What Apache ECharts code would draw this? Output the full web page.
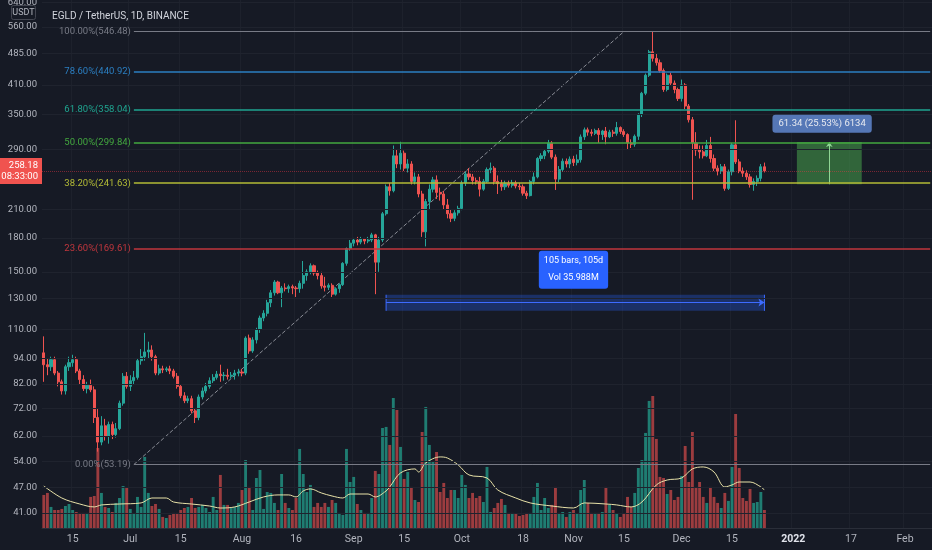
<!DOCTYPE html>
<html><head><meta charset="utf-8">
<script src="https://cdn.jsdelivr.net/npm/echarts@6/dist/echarts.min.js"></script>
<style>html,body{margin:0;padding:0;background:#161a25;}#c{width:932px;height:550px;}</style>
</head><body><div id="c"></div>
<script>
const FONT = "'Liberation Sans Narrow','Roboto','Liberation Sans',sans-serif";

// daily categories from 2021-06-07 to 2022-02-08
const dates = [];
(function(){ const d0 = Date.UTC(2021,5,7); for (let k=0;k<247;k++){ dates.push(new Date(d0+k*86400000).toISOString().slice(0,10)); } })();

// [open, close, low, high]
const candles = [
[97,91,83,106],[91,90,86,94],[90,93.5,88,95],[93.5,87,86,95],[87,83,81,88],[83,79,77.5,84],[79,90,77.5,91],[90,92,88,95],[92,93.5,90,96],[93.5,88,87,95],
[88,84,82,89],[84,80,79,86],[80,81.5,78,83],[81.5,79.5,78.5,84],[79.5,68.5,66.5,81],[68.5,60,57,72],[60,65.5,59,69],[65.5,62,60.5,68],[62,66,59.5,67],[66,62.5,61,67],
[62.5,64.5,61.5,66.5],[64.5,74,64,75],[74,85.5,73,87],[85.5,81,80,87.5],[81,83.5,79,86],[83.5,85,82,88],[85,93,84,94],[93,95,91,99],[95,97.5,93,108],[97.5,98.5,94,103],
[98.5,95,93,101],[95,87,86,96],[87,89,86,91],[89,88.5,87,90.5],[88.5,89,87.5,90],[89,88,86.5,90.5],[88,85.5,84.5,89],[85.5,81,80,87],[81,77,76,82],[77,75,74,78.5],
[75,75.8,74,77],[75.8,71,70,77],[71,68.5,66.5,72],[68.5,76.5,67.5,77.5],[76.5,79,75.5,80.5],[79,81,78,82.5],[81,83.5,80,85],[83.5,85,82.5,86.5],[85,86.5,84,88],[86.5,85.8,83,91],
[85.8,86,83.5,87.5],[86,85.5,84,89],[85.5,86,84.5,87.5],[86,87,84,88.5],[87,87.5,85.5,89],[87.5,87,85.5,89],[87,105,86,106],[105,98,96.5,107],[98,104,97,105.5],[104,110,102,111],
[110,117,108,118.5],[117,120,115,122],[120,127,118,129],[127,134,124,136],[134,142,132,143.5],[142,134,133,143],[134,137.5,124,139],[137.5,137,135,141],[137,138.5,134,140],[138.5,137.5,133,140],
[137.5,137,131,139],[137,141,134,143],[141,147,137,159],[147,150,143,152],[150,155,148,157],[155,149,147,156],[149,147,144,151],[147,139,137,150],[139,138,135,146],[138,139.5,136,141],
[139.5,133,131,141],[133,137,132,138],[137,140,134,141],[140,157,139,158],[157,170,155,171],[170,175,168,178],[175,178,172,180],[178,176,173,181],[176,179,174,181],[179,177,174,180],
[177,178,175,181],[178,183,176,185],[183,158,133,184],[158,178,150,181],[178,205,176,207],[205,237,203,240],[237,232,226,242],[232,280,230,296],[280,268,262,290],[268,284,260,302],
[284,262,258,288],[262,268,256,275],[268,244,240,272],[244,250,240,256],[250,228,224,254],[228,186,181,232],[186,219,172,222],[219,234,210,240],[234,246,230,250],[246,230,222,252],
[230,228,220,236],[228,215,210,232],[215,205,200,222],[205,200,196,210],[200,206,197,209],[206,211,203,214],[211,242,209,245],[242,254,238,258],[254,250,246,262],[250,245,240,254],
[245,244,240,249],[244,234,225,250],[234,244,232,247],[244,260,242,263],[260,262,255,270],[262,244,240,265],[244,241,228,252],[241,237,232,246],[237,241,233,245],[241,239,236,245],
[239,242,236,246],[242,238,235,245],[238,237,233,242],[237,229,226,240],[229,226,222,232],[226,244,225,246],[244,250,240,256],[250,276,248,278],[276,280,272,284],[280,287,275,290],
[287,300,284,305],[300,278,275,303],[278,247,233,282],[247,260,243,265],[260,272,257,276],[272,268,263,276],[268,275,262,279],[275,270,265,280],[270,274,266,282],[274,310,270,314],
[310,322,305,326],[322,318,312,326],[318,316,311,323],[316,321,313,324],[321,314,300,325],[314,320,305,322],[320,310,298,327],[310,318,308,322],[318,316,310,322],[316,326,312,336],
[326,319,315,328],[319,314,310,323],[314,300,290,316],[300,298,292,306],[298,311,294,314],[311,350,305,352],[350,392,345,395],[392,432,388,436],[432,490,428,495],[490,473,465,546],
[473,462,455,485],[462,443,438,470],[443,400,395,448],[400,432,396,436],[432,414,408,438],[414,400,392,420],[400,381,376,404],[381,410,375,422],[410,366,360,414],[366,340,335,370],
[340,300,221,345],[300,289,280,318],[289,286,276,296],[286,280,276,296],[280,296,278,305],[296,276,270,310],[276,262,258,282],[262,258,252,266],[258,264,254,268],[264,235,232,268],
[235,257,233,260],[257,297,252,300],[297,271,268,339],[271,258,255,275],[258,255,250,263],[255,250,246,259],[250,240,236,254],[240,244,232,248],[244,248,238,252],[248,264,244,268],
[264,258.18,256,270]
];

// daily volume (thousand EGLD)
const volumes = [
248,263,158,135,135,143,165,180,135,120,
113,113,113,233,240,600,263,158,150,120,
188,225,315,300,143,105,233,158,533,263,
165,180,143,83,75,98,113,113,135,150,
158,225,150,158,173,150,120,233,135,398,
173,173,150,158,188,285,510,308,135,375,
435,143,270,263,188,135,405,188,150,135,
225,593,405,270,323,158,188,158,188,158,
210,188,113,98,593,345,383,180,135,113,
113,225,428,405,750,758,623,975,885,608,
368,420,308,210,195,720,908,623,495,570,
270,338,225,285,285,225,398,323,225,263,
225,240,195,458,120,150,188,218,173,113,
113,105,90,98,113,113,233,338,135,225,
150,173,308,113,120,83,120,135,105,285,
360,188,113,113,113,120,308,173,135,105,
83,105,233,158,263,450,510,713,953,990,
668,383,375,255,285,210,233,390,615,345,
720,300,345,233,188,308,233,188,150,263,
203,458,855,450,225,203,293,188,195,270,
135
];

// volume moving average
const maDates = ['2021-06-07','2021-06-12','2021-06-17','2021-06-21','2021-06-23','2021-06-28','2021-07-04','2021-07-07','2021-07-11','2021-07-13','2021-07-18','2021-07-23','2021-07-26','2021-07-30','2021-08-03','2021-08-07','2021-08-11','2021-08-14','2021-08-16','2021-08-18','2021-08-20','2021-08-23','2021-08-26','2021-08-29','2021-08-31','2021-09-05','2021-09-07','2021-09-10','2021-09-11','2021-09-14','2021-09-18','2021-09-19','2021-09-21','2021-09-25','2021-09-27','2021-09-30','2021-10-03','2021-10-08','2021-10-11','2021-10-16','2021-10-20','2021-10-26','2021-11-01','2021-11-04','2021-11-10','2021-11-13','2021-11-17','2021-11-20','2021-11-24','2021-11-27','2021-12-01','2021-12-04','2021-12-07','2021-12-10','2021-12-13','2021-12-15','2021-12-17','2021-12-20','2021-12-23','2021-12-24'];
const maValues = [315,225,180,158,173,180,188,225,225,195,180,165,150,158,195,233,248,248,233,278,293,263,240,225,255,255,233,278,308,413,443,420,488,533,525,473,398,375,285,225,188,165,150,188,180,173,158,195,323,360,375,443,458,420,308,323,345,345,308,285];

// axis ticks
const xTickDates  = ['2021-06-15','2021-07-01','2021-07-15','2021-08-01','2021-08-16','2021-09-01','2021-09-15','2021-10-01','2021-10-18','2021-11-01','2021-11-15','2021-12-01','2021-12-15','2022-01-01','2022-01-17','2022-02-01'];
const xTickLabels = ['15','Jul','15','Aug','16','Sep','15','Oct','18','Nov','15','Dec','15','2022','17','Feb'];
const yTicks = [640,560,485,410,350,290,210,180,150,130,110,94,82,72,62,54,47,41];

// fibonacci retracement
const fibRatios = ['100.00%','78.60%','61.80%','50.00%','38.20%','23.60%','0.00%'];
const fibValues = [546.48,440.92,358.04,299.84,241.63,169.61,53.19];
const fibColors = ['#787b86','#2b7fc2','#1fa590','#43a83f','#b3bb36','#c0363d','#787b86'];
const fibStart = '2021-07-02', fibEnd = '2022-02-08', trendEnd = '2021-11-15';

const lastPrice = 258.18, lastCountdown = '08:33:00';
const rangeStart = '2021-09-10', rangeEnd = '2021-12-24', rangeLow = 121.6, rangeHigh = 132.6;
const rangeText = ['105 bars, 105d','Vol 35.988M'];
const boxStart = '2022-01-02', boxEnd = '2022-01-20', boxMid = '2022-01-11', boxLow = 240.28, boxHigh = 301.62;
const boxText = '61.34 (25.53%) 6134';

const tickMap = {}; xTickDates.forEach((d,k)=>tickMap[d]=xTickLabels[k]);
const UP='#26a69a', DN='#ef5350', VUP='#1f7d72', VDN='#9c3c3f', BG='#161a25';

function segment(p0, p1, color, type){
  return {type:'line', silent:true, yAxisIndex:0, z:3, showSymbol:false,
    lineStyle:{color:color, width:1, type:type||'solid'}, emphasis:{disabled:true},
    data:[p0, p1]};
}

const fibSeries = fibValues.map((v,k)=>({
  type:'line', data:[], silent:true, yAxisIndex:0, z:3,
  markLine:{silent:true, symbol:'none',
    lineStyle:{color:fibColors[k], width:(k===0||k===6)?1:1.5, type:'solid'},
    label:{show:true, position:'start', distance:3, formatter:fibRatios[k]+'('+v.toFixed(2)+')', color:fibColors[k], fontSize:9.5, fontFamily:FONT},
    data:[[{coord:[fibStart, v]},{coord:[fibEnd, v]}]]}
}));

const chart = echarts.init(document.getElementById('c'));
chart.setOption({
  animation:false,
  backgroundColor:BG,
  textStyle:{fontFamily:FONT},
  title:{text:'EGLD / TetherUS, 1D, BINANCE', left:47, top:6, textStyle:{color:'#d1d4dc', fontSize:10, fontWeight:'normal', fontFamily:FONT}},
  graphic:[{type:'group', left:11, top:5, children:[
    {type:'rect', shape:{x:0,y:0,width:24,height:14,r:2}, style:{fill:BG, stroke:'#434651', lineWidth:1}},
    {type:'text', style:{x:12, y:7, text:'USDT', fill:'#b2b5be', font:'9px '+FONT, align:'center', verticalAlign:'middle'}}
  ]}],
  grid:{left:42, right:0, top:0, bottom:22},
  xAxis:{type:'category', data:dates, boundaryGap:true,
    axisLine:{show:true, lineStyle:{color:'#2a2e39'}},
    axisTick:{show:false, alignWithLabel:true},
    axisLabel:{interval:(i,v)=>tickMap[v]!==undefined, formatter:v=>tickMap[v]==='2022'?'{b|2022}':(tickMap[v]||''),
      color:'#b2b5be', fontSize:10.5, margin:6, fontFamily:FONT, rich:{b:{color:'#e0e3eb', fontWeight:'bold', fontSize:10.5, fontFamily:FONT}}},
    splitLine:{show:true, interval:(i,v)=>tickMap[v]!==undefined, lineStyle:{color:'#1d212c'}}
  },
  yAxis:[
    {type:'log', logBase:10, min:37.8, max:647.5, axisLabel:{show:false}, splitLine:{show:false}, axisLine:{show:false}, axisTick:{show:false}},
    {type:'value', min:0, max:3960, show:false, splitLine:{show:false}}
  ],
  series:[
    {type:'line', data:[], silent:true, yAxisIndex:0,
      markLine:{symbol:'none', silent:true, animation:false,
        lineStyle:{color:'#1f232e', width:1, type:'solid'},
        label:{position:'start', color:'#b2b5be', fontSize:9.5, distance:5, fontFamily:FONT},
        data:yTicks.map(v=>({yAxis:v, label:{formatter:v.toFixed(2)}}))}
    },
    {type:'bar', yAxisIndex:1, barWidth:'80%', silent:true,
      data:volumes.map((v,k)=>({value:v, itemStyle:{color: candles[k][1]>=candles[k][0]?VUP:VDN}}))},
    {type:'line', yAxisIndex:1, silent:true, showSymbol:false, smooth:0.35,
      data:maDates.map((d,k)=>[d, maValues[k]]), lineStyle:{color:'#e8e2a8', width:1}},
    {type:'line', data:[], silent:true, yAxisIndex:0,
      markArea:{silent:true, data:[
        [{coord:[rangeStart, rangeLow], itemStyle:{color:'rgba(41,98,255,0.30)'}},{coord:[rangeEnd, rangeHigh]}],
        [{coord:[boxStart, boxLow], itemStyle:{color:'rgba(76,175,80,0.50)'}},{coord:[boxEnd, boxHigh]}]
      ]},
      markPoint:{silent:true, symbol:'rect', symbolSize:1, itemStyle:{color:'transparent'}, data:[
        {coord:['2021-11-01', 151.7], label:{show:true, position:'inside', formatter:rangeText.join('\n'), color:'#ffffff', fontSize:9, lineHeight:17, backgroundColor:'#2962ff', padding:[2,5], borderRadius:3, fontFamily:FONT}},
        {coord:['2022-01-09', 332.7], label:{show:true, position:'inside', formatter:boxText, color:'#e8eaf0', fontSize:9.5, backgroundColor:'#5577b6', padding:[4,6], borderRadius:3, fontFamily:FONT}}
      ]}
    },
    {type:'line', data:[], silent:true, yAxisIndex:0,
      markLine:{silent:true, symbol:['none','arrow'], symbolSize:6, label:{show:false},
        lineStyle:{color:'#3d6bff', width:1, type:'solid'},
        data:[[{coord:[rangeStart, (rangeLow+rangeHigh)/2]},{coord:[rangeEnd,(rangeLow+rangeHigh)/2]}]]}
    },
    segment([rangeStart, rangeLow],[rangeStart, rangeHigh], '#3d6bff'),
    segment([rangeEnd, rangeLow],[rangeEnd, rangeHigh], '#3d6bff'),
    {type:'line', data:[], silent:true, yAxisIndex:0,
      markLine:{silent:true, symbol:['none','arrow'], symbolSize:5, label:{show:false},
        lineStyle:{color:'#8fd694', width:1, type:'solid'},
        data:[[{coord:[boxMid, boxLow]},{coord:[boxMid, boxHigh]}]]}
    },
    ...fibSeries,
    segment([fibStart, fibValues[6]],[trendEnd, fibValues[0]], '#8a8d96', 'dashed'),
    {type:'candlestick', yAxisIndex:0, barWidth:2.6, data:candles, z:4,
      itemStyle:{color:UP, color0:DN, borderColor:UP, borderColor0:DN, borderWidth:1},
      markLine:{silent:true, symbol:'none',
        lineStyle:{color:'rgba(242,54,69,0.45)', type:'dotted', width:1},
        label:{position:'start', distance:0, formatter:lastPrice.toFixed(2)+'\n'+lastCountdown, color:'#ffffff', fontSize:9.5, lineHeight:11, backgroundColor:'#f0534f', padding:[2,4,2,4], fontFamily:FONT},
        data:[{yAxis:lastPrice}]}
    }
  ]
});
</script></body></html>
